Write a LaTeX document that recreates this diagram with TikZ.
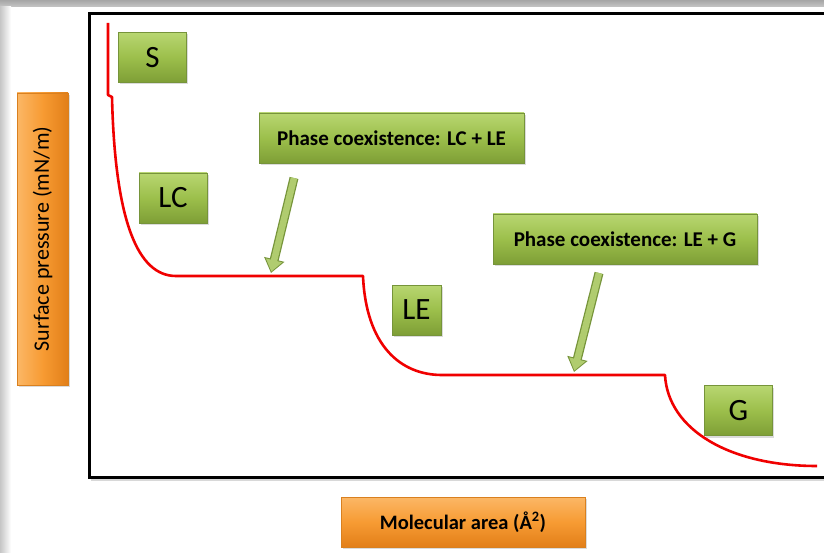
\documentclass[tikz,border=0pt]{standalone}
\usepackage{fontspec}
\setmainfont{Carlito}
\usetikzlibrary{shadows,arrows.meta}
\definecolor{gTop}{HTML}{B8D671}
\definecolor{gMid}{HTML}{9CBF4B}
\definecolor{gBot}{HTML}{7E9E36}
\definecolor{gBord}{HTML}{76943A}
\definecolor{oTop}{HTML}{FBB766}
\definecolor{oMid}{HTML}{F79B33}
\definecolor{oBot}{HTML}{E27F19}
\definecolor{oBord}{HTML}{D9801F}
\definecolor{curveRed}{HTML}{F00000}
\tikzset{
  shadowed/.style={drop shadow={shadow xshift=1.5pt,shadow yshift=-2pt,opacity=0.28}},
  gbox/.style={rectangle, draw=gBord, line width=0.6pt, top color=gTop, bottom color=gBot, middle color=gMid, shadowed, inner sep=0pt, text=black},
  obox/.style={rectangle, draw=oBord, line width=0.6pt, top color=oTop, bottom color=oBot, middle color=oMid, shadowed, inner sep=0pt, text=black},
  letterbox/.style={gbox, minimum width=68pt, minimum height=50pt, font=\fontsize{31}{31}\selectfont},
  phasebox/.style={gbox, minimum width=264pt, minimum height=50pt, font=\fontsize{21}{21}\selectfont\bfseries},
  fatout/.style={draw=gBord, line width=9pt, -{Triangle[length=14pt,width=20pt]}},
  fatin/.style={draw=gMid!80!white, line width=6.5pt, shorten >=1.5pt, -{Triangle[length=11.5pt,width=16pt]}},
  isotherm/.style={draw=curveRed, line width=2.6pt, line join=round}
}
\begin{document}
\begin{tikzpicture}[x=1pt,y=-1pt]
\useasboundingbox (0,0) rectangle (824,553);
\clip (0,0) rectangle (824,553);
% background
\fill[white] (0,0) rectangle (824,553);
\shade[top color=gray!70, bottom color=gray!45] (0,0) rectangle (824,7);
\shade[left color=gray!45, right color=white] (0,7) rectangle (11,553);
% frame
\draw[line width=3pt, fill=white, drop shadow={shadow xshift=1pt,shadow yshift=-3pt,opacity=0.3}] (89.5,13.5) rectangle (840,477.5);
% isotherm
\draw[isotherm] (108,23) -- (108,95) -- (112,97)
  .. controls (115,222) and (138,276) .. (176,276)
  -- (363,276)
  .. controls (366,345) and (400,375) .. (442,375)
  -- (665,375)
  .. controls (668,430) and (730,466) .. (817,466);
% phase labels
\node[letterbox] (S)  at (152.5,57.5) {S};
\node[letterbox] (LC) at (173,198) {LC};
\node[letterbox, minimum width=49pt] (LE) at (416.5,310) {LE};
\node[letterbox] (G)  at (738.5,410.5) {G};
\node[phasebox, minimum width=265pt] (p1) at (391.5,138) {Phase coexistence: LC + LE};
\node[phasebox] (p2) at (625,239) {Phase coexistence: LE + G};
% axis labels
\node[rectangle, draw=oBord, line width=0.6pt, left color=oTop, right color=oBot, middle color=oMid, shadowed, minimum width=51pt, minimum height=292pt, inner sep=0pt] (ylab) at (42.5,239) {};
\node[rotate=90, font=\fontsize{22}{22}\selectfont, text=black] at (ylab.center) {Surface pressure (mN/m)};
\node[obox, minimum width=244pt, minimum height=50pt, font=\fontsize{20.5}{20.5}\selectfont\bfseries] (xlab) at (463,522) {Molecular area (Å\textsuperscript{2})};
% arrows
\coordinate (a1s) at (294,178);
\coordinate (a1e) at (271,273);
\coordinate (a2s) at (599,273);
\coordinate (a2e) at (574,372);
\draw[fatout] (a1s) -- (a1e);
\draw[fatin] (a1s) -- (a1e);
\draw[fatout] (a2s) -- (a2e);
\draw[fatin] (a2s) -- (a2e);
\end{tikzpicture}
\end{document}
